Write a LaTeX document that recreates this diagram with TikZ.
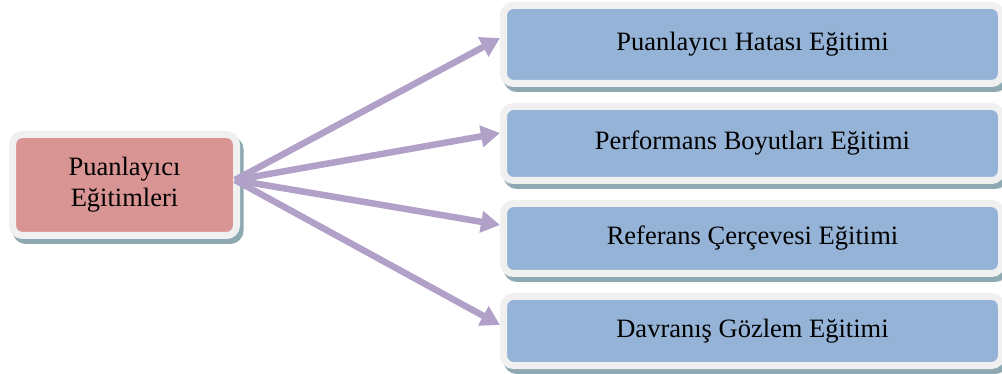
\documentclass[tikz,border=0pt]{standalone}
\usepackage{fontspec}
\setmainfont{Liberation Serif}
\usetikzlibrary{arrows.meta}
\definecolor{framec}{HTML}{F0F0F0}
\definecolor{shadec}{HTML}{8EA9B1}
\definecolor{bluec}{HTML}{95B3D7}
\definecolor{pinkc}{HTML}{D99594}
\definecolor{arrowc}{HTML}{B1A0C7}
\tikzset{
  card/.style={draw=framec, line width=7pt, rounded corners=10pt,
    inner sep=0pt, outer sep=3.5pt, align=center,
    font=\fontsize{26.5}{27}\selectfont,
    preaction={draw=shadec, fill=shadec, line width=7pt,
      transform canvas={shift={(3.5pt,-5pt)}}}},
  rightcard/.style={card, fill=bluec, minimum width=498pt},
  link/.style={draw=arrowc, line width=6.5pt,
    -{Triangle[length=19pt,width=21pt]}}
}
\begin{document}
\begin{tikzpicture}[x=1pt,y=-1pt]
\useasboundingbox (0,0) rectangle (1002,374);
% source box
\node[card, fill=pinkc, minimum width=224pt, minimum height=101pt,
  font=\fontsize{26.5}{31}\selectfont] (src) at (124.5,185) {Puanlayıcı\\Eğitimleri};
% target boxes
\node[rightcard, minimum height=78pt] (t1) at (752.5,44.5) {Puanlayıcı Hatası Eğitimi};
\node[rightcard, minimum height=74pt] (t2) at (752.5,143.5) {Performans Boyutları Eğitimi};
\node[rightcard, minimum height=70pt] (t3) at (752.5,238.5) {Referans Çerçevesi Eğitimi};
\node[rightcard, minimum height=69pt] (t4) at (752.5,331) {Davranış Gözlem Eğitimi};
% connectors
\coordinate (hub) at ([xshift=-5pt,yshift=5pt]src.east);
\draw[link] (hub) -- ([yshift=6.5pt]t1.west);
\draw[link] (hub) -- ([yshift=10.5pt]t2.west);
\draw[link] (hub) -- ([yshift=13.5pt]t3.west);
\draw[link] (hub) -- ([yshift=6pt]t4.west);
\end{tikzpicture}
\end{document}
